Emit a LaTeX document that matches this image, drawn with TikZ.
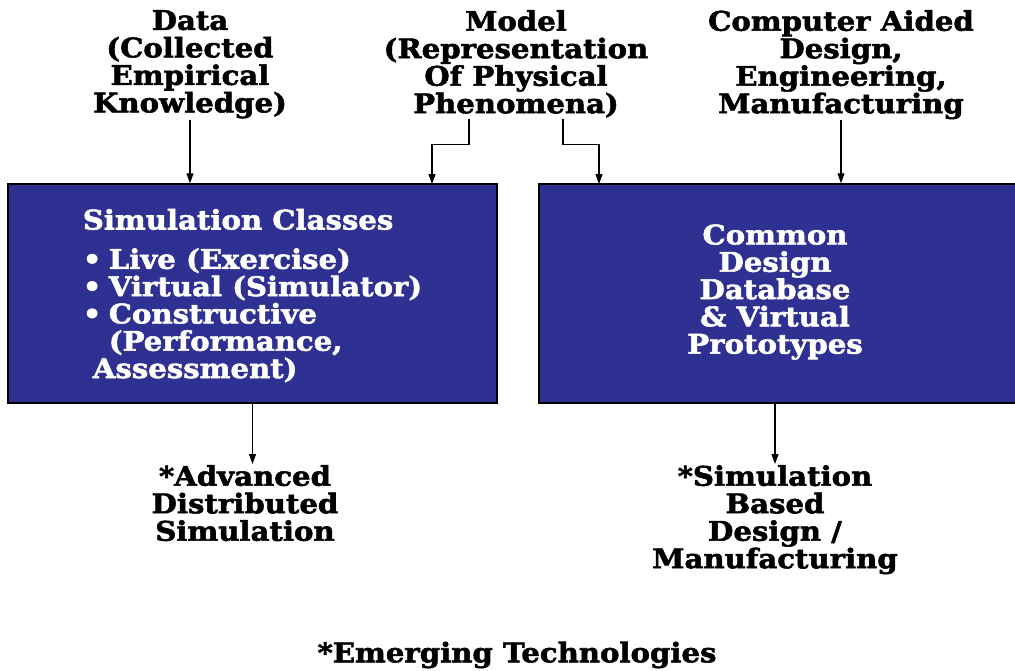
\documentclass[tikz,border=0pt]{standalone}
\usepackage{fontspec}
\usetikzlibrary{arrows.meta}
\setmainfont{DejaVu Serif}[FakeStretch=1.08, FakeBold=2]
\definecolor{boxblue}{RGB}{46,49,146}
\begin{document}
\begin{tikzpicture}[x=1pt,y=-1pt,
  lbl/.style={font=\bfseries\fontsize{27}{27.5}\selectfont, align=center, inner sep=1pt},
  boxtxt/.style={font=\bfseries\fontsize{27}{27.3}\selectfont, text=white, inner sep=0pt},
  panel/.style={draw=black, line width=1.5pt, fill=boxblue, minimum height=219pt, inner sep=0pt},
  flow/.style={draw=black, line width=1.2pt, -{Triangle[length=10pt,width=7pt]}}
]
\useasboundingbox (0,0) rectangle (1015,670);
\clip (0,0) rectangle (1015,670);

% input sources
\node[lbl, anchor=north] (data)  at (190,9) {Data\\(Collected\\Empirical\\Knowledge)};
\node[lbl, anchor=north] (model) at (516,9) {Model\\(Representation\\Of Physical\\Phenomena)};
\node[lbl, anchor=north] (cad)   at (841,9) {Computer Aided\\Design,\\Engineering,\\Manufacturing};

% the two panels
\node[panel, minimum width=489pt, boxtxt, align=left, text depth=0pt] (sim) at (252.5,293.5)
  {\rule{0pt}{6pt}Simulation Classes\\[12pt]
   \makebox[26pt][l]{•}Live (Exercise)\\
   \makebox[26pt][l]{•}Virtual (Simulator)\\
   \makebox[26pt][l]{•}Constructive\\
   \hspace*{26pt}(Performance,\\
   \hspace*{10pt}Assessment)};
\node[panel, minimum width=520pt, anchor=west] (cdb) at (538,293.5) {};
\node[boxtxt, align=center] (cdbtext) at (775,292)
  {Common\\Design\\Database\\\& Virtual\\Prototypes};

% outcomes
\node[lbl, anchor=north] (ads) at (245,464) {*Advanced\\Distributed\\Simulation};
\node[lbl, anchor=north] (sbd) at (775,464) {*Simulation\\Based\\Design /\\Manufacturing};
\node[lbl] (emerg) at (517,655) {*Emerging Technologies};

% connectors
\draw[flow] (data.south) -- (data.south |- sim.north);
\draw[flow] ([xshift=-47pt]model.south) |- ++(0,26) -| (432,184);
\draw[flow] ([xshift=47pt]model.south) |- ++(0,26) -| (599,184);
\draw[flow] (cad.south) -- (cad.south |- cdb.north);
\draw[flow] (sim.south) -- (sim.south |- ads.north);
\draw[flow] (sbd.north |- cdb.south) -- (sbd.north);
\end{tikzpicture}
\end{document}
